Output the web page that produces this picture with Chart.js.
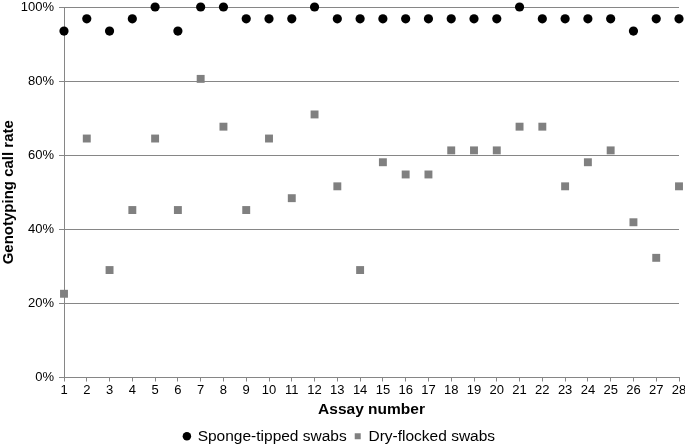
<!DOCTYPE html>
<html>
<head>
<meta charset="utf-8">
<script src="https://cdn.jsdelivr.net/npm/chart.js@4.4.0/dist/chart.umd.min.js"></script>
<style>
  body { margin: 0; background: #fff; }
  #chart { display: block; }
</style>
</head>
<body>
<canvas id="chart" width="685" height="445"></canvas>
<script>
// assay numbers 1..28
const assays = [1,2,3,4,5,6,7,8,9,10,11,12,13,14,15,16,17,18,19,20,21,22,23,24,25,26,27,28];
// call rates in %
const sponge = [93.5,96.8,93.5,96.8,100,93.5,100,100,96.8,96.8,96.8,100,96.8,96.8,96.8,96.8,96.8,96.8,96.8,96.8,100,96.8,96.8,96.8,96.8,93.5,96.8,96.8];
const flocked = [22.6,64.5,29.0,45.2,64.5,45.2,80.6,67.7,45.2,64.5,48.4,71.0,51.6,29.0,58.1,54.8,54.8,61.3,61.3,61.3,67.7,67.7,51.6,58.1,61.3,41.9,32.3,51.6];
const yTicks = [0,20,40,60,80,100];

function pts(vals){
    return assays.map(function(a, i){ return {x: a, y: vals[i]}; });
}

const font = "'Liberation Sans', Arial, sans-serif";

new Chart(document.getElementById("chart"), {
    type: "scatter",
    data: {
        datasets: [{
            label: "Sponge-tipped swabs",
            data: pts(sponge),
            pointStyle: "circle",
            pointRadius: 4.6,
            pointHoverRadius: 4.6,
            backgroundColor: "#000000",
            borderColor: "#000000",
            borderWidth: 0,
            clip: false
        }, {
            label: "Dry-flocked swabs",
            data: pts(flocked),
            pointStyle: "rect",
            pointRadius: 5.6,
            pointHoverRadius: 5.6,
            backgroundColor: "#808080",
            borderColor: "#808080",
            borderWidth: 0,
            clip: false
        }]
    },
    options: {
        responsive: false,
        animation: false,
        layout: { padding: { top: 7, right: 6, left: 0, bottom: -9 } },
        plugins: {
            tooltip: { enabled: false },
            legend: {
                position: "bottom",
                labels: {
                    usePointStyle: true,
                    boxWidth: 6,
                    boxHeight: 6,
                    padding: 8,
                    color: "#000",
                    font: { family: font, size: 15.5 }
                }
            }
        },
        scales: {
            x: {
                type: "linear",
                min: 1,
                max: 28,
                afterBuildTicks: function(scale){
                    scale.ticks = assays.map(function(v){ return {value: v}; });
                },
                afterFit: function(scale){
                    scale.height = 43;
                    scale.paddingRight = 0;
                },
                grid: {
                    drawOnChartArea: false,
                    drawTicks: true,
                    tickLength: 4,
                    color: "#868686"
                },
                border: { color: "#868686" },
                ticks: {
                    color: "#000",
                    autoSkip: false,
                    maxRotation: 0,
                    padding: 1,
                    font: { family: font, size: 13 }
                },
                title: {
                    display: true,
                    text: "Assay number",
                    color: "#000",
                    padding: { top: 1, bottom: 1.5 },
                    font: { family: font, size: 15.5, weight: "bold" }
                }
            },
            y: {
                min: 0,
                max: 100,
                afterBuildTicks: function(scale){
                    scale.ticks = yTicks.map(function(v){ return {value: v}; });
                },
                afterFit: function(scale){
                    scale.width = 64;
                    scale.paddingTop = 0;
                },
                grid: {
                    color: "#868686",
                    tickLength: 5
                },
                border: { color: "#868686" },
                ticks: {
                    color: "#000",
                    padding: 5,
                    font: { family: font, size: 13 },
                    callback: function(v){ return v + "%"; }
                },
                title: {
                    display: true,
                    text: "Genotyping call rate",
                    color: "#000",
                    padding: { top: 0, bottom: 3 },
                    font: { family: font, size: 15, weight: "bold" }
                }
            }
        }
    }
});
</script>
</body>
</html>
